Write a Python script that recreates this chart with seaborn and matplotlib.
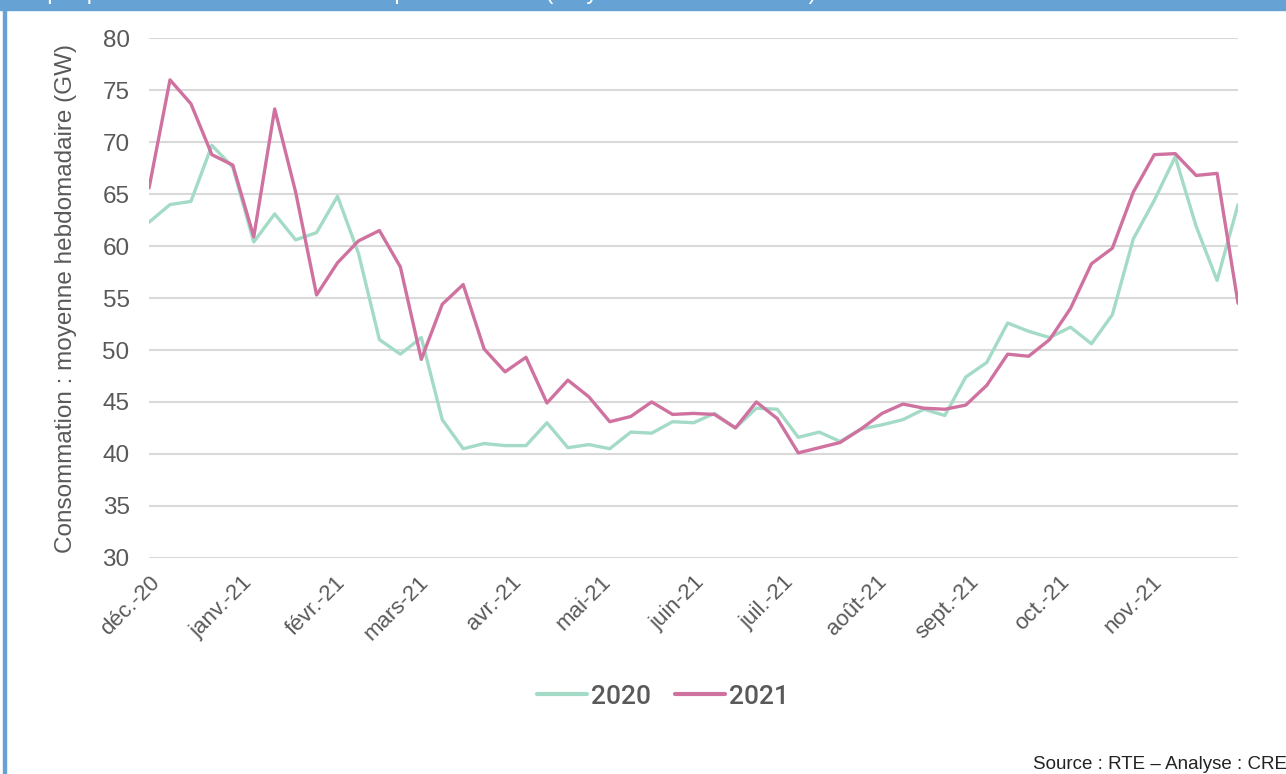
import matplotlib
matplotlib.use("Agg")
import matplotlib.pyplot as plt
import seaborn as sns
import pandas as pd
import numpy as np

# Weekly average electricity consumption in France (GW)
conso_2020 = [62.3, 64.0, 64.3, 69.7, 67.6, 60.4, 63.1, 60.6, 61.3, 64.8,
              59.3, 51.0, 49.6, 51.2, 43.3, 40.5, 41.0, 40.8, 40.8, 43.0,
              40.6, 40.9, 40.5, 42.1, 42.0, 43.1, 43.0, 43.9, 42.5, 44.4,
              44.3, 41.6, 42.1, 41.2, 42.4, 42.8, 43.3, 44.3, 43.7, 47.4,
              48.8, 52.6, 51.8, 51.2, 52.2, 50.6, 53.4, 60.7, 64.4, 68.6,
              61.9, 56.7, 64.0]
conso_2021 = [65.6, 76.0, 73.7, 68.8, 67.8, 60.9, 73.2, 65.2, 55.3, 58.4,
              60.5, 61.5, 58.0, 49.1, 54.4, 56.3, 50.1, 47.9, 49.3, 44.9,
              47.1, 45.5, 43.1, 43.6, 45.0, 43.8, 43.9, 43.8, 42.5, 45.0,
              43.4, 40.1, 40.6, 41.1, 42.4, 43.9, 44.8, 44.4, 44.3, 44.7,
              46.6, 49.6, 49.4, 51.0, 54.0, 58.3, 59.8, 65.2, 68.8, 68.9,
              66.8, 67.0, 54.5]
series_names = ["2020", "2021"]
month_labels = ["déc.-20", "janv.-21", "févr.-21", "mars-21", "avr.-21",
                "mai-21", "juin-21", "juil.-21", "août-21", "sept.-21",
                "oct.-21", "nov.-21"]
y_ticks = [30, 35, 40, 45, 50, 55, 60, 65, 70, 75, 80]

weeks = pd.date_range("2020-12-01", periods=len(conso_2020), freq="7D")
month_starts = pd.date_range("2020-12-01", periods=len(month_labels), freq="MS")

df = pd.DataFrame({
    "semaine": np.concatenate([weeks, weeks]),
    "conso": conso_2020 + conso_2021,
    "annee": [series_names[0]] * len(weeks) + [series_names[1]] * len(weeks),
})

sns.set_theme(style="white")
plt.rcParams["font.family"] = ["Liberation Sans", "DejaVu Sans"]

fig = plt.figure(figsize=(12.86, 7.74), dpi=100)
ax = fig.add_axes([0.1159, 0.2793, 0.8468, 0.6712])

palette = {"2020": "#a4dbc7", "2021": "#cf72a0"}
sns.lineplot(data=df, x="semaine", y="conso", hue="annee", palette=palette,
             linewidth=2.4, ax=ax, legend=False)

ax.set_xlim(weeks[0], weeks[-1])
ax.set_ylim(30, 80)
ax.set_yticks(y_ticks)
ax.set_xticks(month_starts)
ax.set_xticklabels(month_labels, rotation=45, ha="right",
                   rotation_mode="anchor")
ax.tick_params(axis="y", length=0, pad=14, labelsize=17.5, labelcolor="#595959")
ax.tick_params(axis="x", length=0, pad=10, labelsize=16, labelcolor="#595959")
ax.yaxis.grid(True, color="#d9d9d9", linewidth=1.5)
ax.xaxis.grid(False)
for s in ax.spines.values():
    s.set_visible(False)
ax.set_xlabel("")
ax.set_ylabel("Consommation : moyenne hebdomadaire (GW)", fontsize=17.5,
              color="#595959", labelpad=18)

handles = [plt.Line2D([], [], color=palette[n], linewidth=3) for n in series_names]
leg = ax.legend(handles, series_names, loc="center",
                bbox_to_anchor=(0.472, -0.267), ncol=2, frameon=False,
                prop={"family": ["Roboto", "Liberation Sans"], "size": 19,
                      "weight": "medium"},
                handlelength=1.9, handletextpad=0.15, columnspacing=0.9,
                labelcolor="#595959")

# Blue frame: header band and left rule
fig.patches.append(plt.Rectangle((0, 1 - 10 / 774), 1, 10 / 774,
                                 transform=fig.transFigure,
                                 color="#66a3d4", zorder=0))
fig.patches.append(plt.Rectangle((3 / 1286, 0), 3 / 1286, 1,
                                 transform=fig.transFigure,
                                 color="#66a3d4", zorder=0))
fig.text(8 / 1286, 1 + 1.5 / 774,
         "Graphique 1 : Consommation électrique en France (moyenne hebdomadaire)",
         color="white", fontsize=17, va="baseline", ha="left")

fig.text(1033 / 1286, 1 - 769 / 774, "Source : RTE – Analyse : CRE",
         fontsize=13.5, color="#222222", ha="left", va="baseline")

fig.savefig("out.png", dpi=100)
